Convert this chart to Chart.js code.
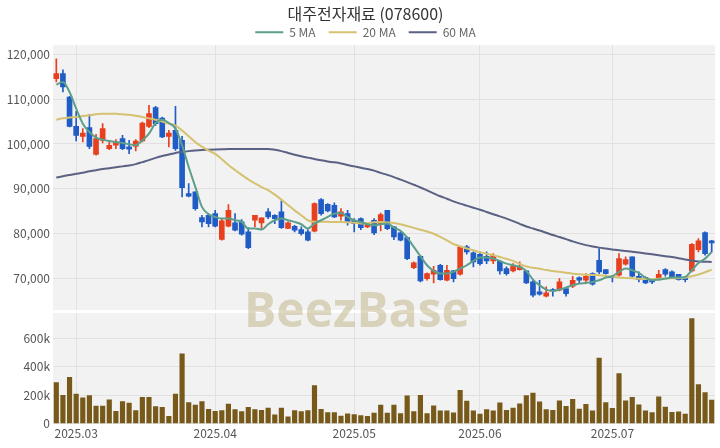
<!DOCTYPE html>
<html>
<head>
<meta charset="utf-8">
<script src="https://cdn.jsdelivr.net/npm/chart.js@4"></script>
<style>
  html, body { margin: 0; padding: 0; background: #ffffff; }
  #wrap { position: relative; width: 720px; height: 448px; overflow: hidden; }
  #topBox { position: absolute; left: 0; top: 0; width: 720px; height: 310px; }
  #volBox { position: absolute; left: 0; top: 313px; width: 720px; height: 135px; }
  #wm { position: absolute; left: -3px; top: 285px; width: 720px; text-align: center;
        font: 700 48px 'Open Sans', sans-serif; line-height: 48px; color: rgba(190,178,130,0.5);
        pointer-events: none; }
</style>
</head>
<body>
<div id="wrap">
  <div id="topBox"><canvas id="priceChart" width="720" height="310"></canvas></div>
  <div id="volBox"><canvas id="volChart" width="720" height="135"></canvas></div>
  <div id="wm">BeezBase</div>
</div>
<script>
// ---------------- data ----------------
const chartTitle = '대주전자재료 (078600)';
const dates = [
 '2025-02-26','2025-02-27','2025-02-28',
 '2025-03-03','2025-03-04','2025-03-05','2025-03-06','2025-03-07','2025-03-10','2025-03-11','2025-03-12','2025-03-13','2025-03-14',
 '2025-03-17','2025-03-18','2025-03-19','2025-03-20','2025-03-21','2025-03-24','2025-03-25','2025-03-26','2025-03-27','2025-03-28','2025-03-31',
 '2025-04-01','2025-04-02','2025-04-03','2025-04-04','2025-04-07','2025-04-08','2025-04-09','2025-04-10','2025-04-11',
 '2025-04-14','2025-04-15','2025-04-16','2025-04-17','2025-04-18','2025-04-21','2025-04-22','2025-04-23','2025-04-24','2025-04-25','2025-04-28','2025-04-29',
 '2025-05-02','2025-05-07','2025-05-08','2025-05-09','2025-05-12','2025-05-13','2025-05-14','2025-05-15','2025-05-16',
 '2025-05-19','2025-05-20','2025-05-21','2025-05-22','2025-05-23','2025-05-26','2025-05-27','2025-05-28','2025-05-29','2025-05-30',
 '2025-06-02','2025-06-04','2025-06-05','2025-06-06','2025-06-09','2025-06-10','2025-06-11','2025-06-12','2025-06-13',
 '2025-06-16','2025-06-17','2025-06-18','2025-06-19','2025-06-20','2025-06-23','2025-06-24','2025-06-25','2025-06-26','2025-06-27','2025-06-30',
 '2025-07-01','2025-07-02','2025-07-03','2025-07-04','2025-07-07','2025-07-08','2025-07-09','2025-07-10','2025-07-11',
 '2025-07-14','2025-07-15','2025-07-16','2025-07-17','2025-07-18','2025-07-21','2025-07-22'
];
const opens = [114540,115650,110450,103920,101700,103630,97690,100810,98950,99700,101180,99330,99470,100660,103920,108080,105780,101700,103030,100810,
 88940,89310,83600,84110,84480,78700,81670,82400,82630,80400,82990,82400,84850,84110,84850,81150,81670,80920,80400,80550,
 87600,86560,86340,83890,84480,83000,83360,81510,83000,82250,85220,81510,80170,79130,72450,74980,70000,70970,72970,69630,
 71710,70970,77050,75720,75420,74980,73940,73860,72230,71710,72010,71710,69260,67030,66070,67550,67400,67770,68290,70220,
 69630,71110,74080,72000,70520,70740,73190,74820,70520,70220,69780,69780,72000,71480,70960,70220,71700,76460,80240,78390];
const highs = [118990,116540,110600,107260,103400,106600,102140,104520,100810,100960,101920,100810,100960,104890,108600,108380,106000,103030,108380,101700,
 91160,89310,84110,84480,85220,83370,86490,84480,83150,81370,84110,83520,85600,84260,87300,82630,81890,81520,80920,86860,
 87830,86710,86860,85600,85230,83370,83510,82250,83360,84620,85220,81650,80390,79280,73720,75200,71270,72750,73200,72970,
 71860,77200,77430,75940,75940,75940,75570,74090,72600,73340,73710,71860,69630,69630,68150,67770,70000,67770,70520,70370,
 71110,71260,76680,72000,70740,75570,74820,74820,71480,70370,70000,71850,72230,71700,70960,70370,77790,78910,80390,78540];
const lows = [113800,111570,103780,100660,100440,98950,97470,100220,98730,98950,98730,97840,98440,100440,103630,104150,101400,99330,98580,88200,
 88200,85230,81520,81520,81520,78550,81520,80630,79660,76690,81520,81150,83370,82260,81150,81150,80400,79660,78400,80400,
 84110,84850,83590,83000,81890,80400,80910,81360,79800,80610,80910,78690,78390,74230,72230,69260,69630,69040,69630,69480,
 69260,70750,75420,72600,72970,73340,73340,70970,70750,71490,71860,68890,65920,66290,65920,66070,67250,66070,68000,68890,
 68890,68520,71110,70960,69260,70520,72970,70370,69260,68890,68890,69630,70520,70220,69630,69260,71480,75940,75200,75940];
const closes = [115650,112680,103920,101920,102440,99470,101180,103410,99700,100440,98950,98810,100660,104670,106740,104520,101550,102440,98950,90270,
 88340,85600,82630,82260,81660,82850,85230,80780,79890,76910,84110,83520,83740,83370,81370,82400,80780,80030,78550,86710,
 84480,85080,83740,84850,82630,82260,81360,82100,80170,84250,81140,79280,78540,74460,73490,69480,71120,71860,69780,71860,
 70000,77050,75940,73710,73340,73940,75200,71710,71120,72750,72600,69040,66290,66510,66810,67250,69260,66660,69630,69630,
 70520,68740,71480,71110,70220,74450,74230,70520,69780,69040,69260,70960,70960,70370,69780,69780,77640,78390,75570,77940];
const ma5 = [113200,113800,111570,107860,104520,102660,101400,100960,100660,100440,100220,99920,99700,100810,102290,104670,105410,104670,103410,99700,
 94870,90420,85970,84340,83740,83370,83370,83000,82630,81150,81150,80920,82110,83000,83370,83000,82630,82110,81150,82260,
 83000,83740,84480,84630,83740,83000,82620,82100,81880,82100,82250,81360,80620,79130,77050,74980,72970,71710,71120,71120,
 71490,72230,72970,73940,74680,74680,74460,73940,73340,72970,72600,71710,69780,68520,67550,67250,67550,68000,68520,68890,
 69040,69260,69630,70220,70520,71480,72230,71850,71260,70220,69630,69780,70000,70220,70220,70370,71850,73490,74450,75940];
const ma20 = [105400,105700,105900,106000,106200,106400,106600,106750,106750,106700,106600,106500,106300,106000,105700,105400,105000,104500,104100,103000,
 101700,100400,99400,98500,97800,96600,95300,94200,93100,92100,91200,90400,89700,88700,87600,86400,85200,84100,83000,82650,
 82650,82650,82600,82600,82550,82450,82300,82350,82550,82600,82500,82400,82100,81700,81300,80900,80500,80000,79300,78500,
 77700,77200,76700,76300,75900,75550,75200,74800,74400,73950,73300,72700,72400,72200,71900,71700,71500,71300,71100,70950,
 70850,70800,70750,70600,70400,70250,70150,70050,69950,69900,69900,69950,70000,70050,70100,70200,70500,70900,71400,72000];
const ma60 = [92500,92800,93100,93350,93600,93900,94150,94400,94600,94800,95000,95200,95500,95950,96400,96900,97300,97650,98000,98200,
 98400,98550,98650,98700,98750,98800,98850,98870,98880,98880,98880,98880,98880,98700,98400,98000,97600,97250,96950,96650,
 96350,96100,95900,95650,95300,95000,94700,94400,94050,93550,93100,92600,92050,91500,90900,90300,89650,89000,88350,87800,
 87200,86700,86250,85800,85350,84850,84350,83850,83350,82800,82200,81600,81150,80700,80200,79700,79250,78800,78300,77850,
 77450,77150,76900,76700,76500,76300,76150,76000,75800,75600,75400,75200,75000,74800,74550,74250,74000,73800,73750,73700];
const volumes = [290000,200000,326000,209000,182000,198000,124000,124000,168000,87000,156000,145000,92000,186000,186000,120000,115000,51000,209000,492000,
 149000,131000,156000,101000,87000,92000,138000,99000,85000,115000,99000,94000,110000,62000,110000,48000,92000,85000,92000,269000,
 101000,78000,78000,53000,69000,64000,57000,51000,74000,131000,74000,131000,71000,195000,85000,200000,71000,126000,90000,90000,
 76000,234000,159000,90000,67000,99000,90000,147000,94000,110000,140000,198000,216000,154000,99000,94000,161000,122000,172000,103000,
 136000,90000,462000,149000,108000,352000,161000,186000,133000,90000,78000,189000,117000,80000,83000,67000,740000,276000,218000,166000];
const priceTicks = [70000, 80000, 90000, 100000, 110000, 120000];
const volumeTicks = [0, 200000, 400000, 600000];
const monthTicks = ['2025.03', '2025.04', '2025.05', '2025.06', '2025.07'];
const maLabels = ['5 MA', '20 MA', '60 MA'];

// ---------------- styles ----------------
const UP = '#e8401f', DOWN = '#1f5cc6';
const MA_COLORS = ['#5c9f8b', '#d5c271', '#5a6183'];
const VOL_COLOR = '#77591a';
const PLOT_BG = '#f2f2f2', GRID = '#e1e1e1', TICK = '#555555';
const FONT = "'Noto Sans CJK KR', 'Noto Sans', sans-serif";
const Y_WIDTH = 37;
const PAD = { left: 16, right: 5, top: 0, bottom: 0 };

Chart.defaults.font.family = FONT;
Chart.defaults.animation = false;

const monthIdx = monthTicks.map(m => dates.findIndex(d => d.slice(0, 7) === m.replace('.', '-')));
const candleColors = opens.map((o, i) => closes[i] >= o ? UP : DOWN);

const plotBg = {
  id: 'plotBg',
  beforeDraw(chart) {
    const { ctx, chartArea: a } = chart;
    ctx.save();
    ctx.fillStyle = PLOT_BG;
    ctx.fillRect(a.left, a.top, a.right - a.left, a.bottom - a.top);
    ctx.restore();
  }
};

// y axis: fixed width, no extra margins, labels may extend left of the axis box
function fitY(s) {
  s.width = Y_WIDTH;
  s.paddingTop = 0;
  s.paddingBottom = 0;
  s._computeLabelArea = () => undefined;
}

function monthGridX(showLabels) {
  return {
    offset: true,
    grid: { offset: false, color: GRID, drawTicks: false },
    border: { display: false },
    afterBuildTicks: s => { s.ticks = monthIdx.map(v => ({ value: v })); },
    ticks: {
      display: showLabels, autoSkip: false, maxRotation: 0, padding: 3,
      color: TICK, font: { size: 12 },
      callback: (v, i) => monthTicks[i]
    }
  };
}

// ---------------- price chart ----------------
new Chart(document.getElementById('priceChart'), {
  type: 'bar',
  data: {
    labels: dates,
    datasets: [
      { type: 'line', label: maLabels[0], data: ma5, borderColor: MA_COLORS[0], backgroundColor: MA_COLORS[0],
        borderWidth: 2, pointRadius: 0, cubicInterpolationMode: 'monotone', order: 0 },
      { type: 'line', label: maLabels[1], data: ma20, borderColor: MA_COLORS[1], backgroundColor: MA_COLORS[1],
        borderWidth: 2, pointRadius: 0, cubicInterpolationMode: 'monotone', order: 0 },
      { type: 'line', label: maLabels[2], data: ma60, borderColor: MA_COLORS[2], backgroundColor: MA_COLORS[2],
        borderWidth: 2, pointRadius: 0, cubicInterpolationMode: 'monotone', order: 0 },
      { label: 'wick', data: lows.map((l, i) => [l, highs[i]]), backgroundColor: candleColors,
        barThickness: 1, grouped: false, order: 2 },
      { label: 'body', data: opens.map((o, i) => [Math.min(o, closes[i]), Math.max(o, closes[i])]),
        backgroundColor: candleColors, barThickness: 5, grouped: false, order: 1 }
    ]
  },
  options: {
    responsive: false,
    devicePixelRatio: 1,
    layout: { padding: PAD },
    plugins: {
      title: { display: true, text: chartTitle, color: '#333333',
               font: { size: 16, weight: 'normal', family: FONT }, padding: { top: 4, bottom: -10 } },
      legend: {
        display: true, maxHeight: 32,
        labels: {
          filter: item => item.datasetIndex < 3,
          usePointStyle: true, pointStyle: 'line', pointStyleWidth: 28,
          color: '#666666', font: { size: 12 }, padding: 13
        }
      },
      tooltip: { enabled: false }
    },
    scales: {
      x: monthGridX(false),
      y: {
        min: 63000, max: 122000,
        afterBuildTicks: s => { s.ticks = priceTicks.map(v => ({ value: v })); },
        afterFit: fitY,
        grid: { color: GRID, drawTicks: false },
        border: { display: false },
        ticks: { color: TICK, font: { size: 12 }, padding: 3,
                 callback: v => v.toLocaleString('en-US') }
      }
    }
  },
  plugins: [plotBg]
});

// ---------------- volume chart ----------------
new Chart(document.getElementById('volChart'), {
  type: 'bar',
  data: {
    labels: dates,
    datasets: [{ label: 'Volume', data: volumes, backgroundColor: VOL_COLOR, barThickness: 4.5 }]
  },
  options: {
    responsive: false,
    devicePixelRatio: 1,
    layout: { padding: { left: PAD.left, right: PAD.right, top: 0, bottom: 4 } },
    plugins: { legend: { display: false }, title: { display: false }, tooltip: { enabled: false } },
    scales: {
      x: monthGridX(true),
      y: {
        min: 0, max: 780000,
        afterBuildTicks: s => { s.ticks = volumeTicks.map(v => ({ value: v })); },
        afterFit: fitY,
        grid: { color: GRID, drawTicks: false },
        border: { display: false },
        ticks: { color: TICK, font: { size: 12 }, padding: 3,
                 callback: v => v === 0 ? '0' : (v / 1000) + 'k' }
      }
    }
  },
  plugins: [plotBg]
});
</script>
</body>
</html>
